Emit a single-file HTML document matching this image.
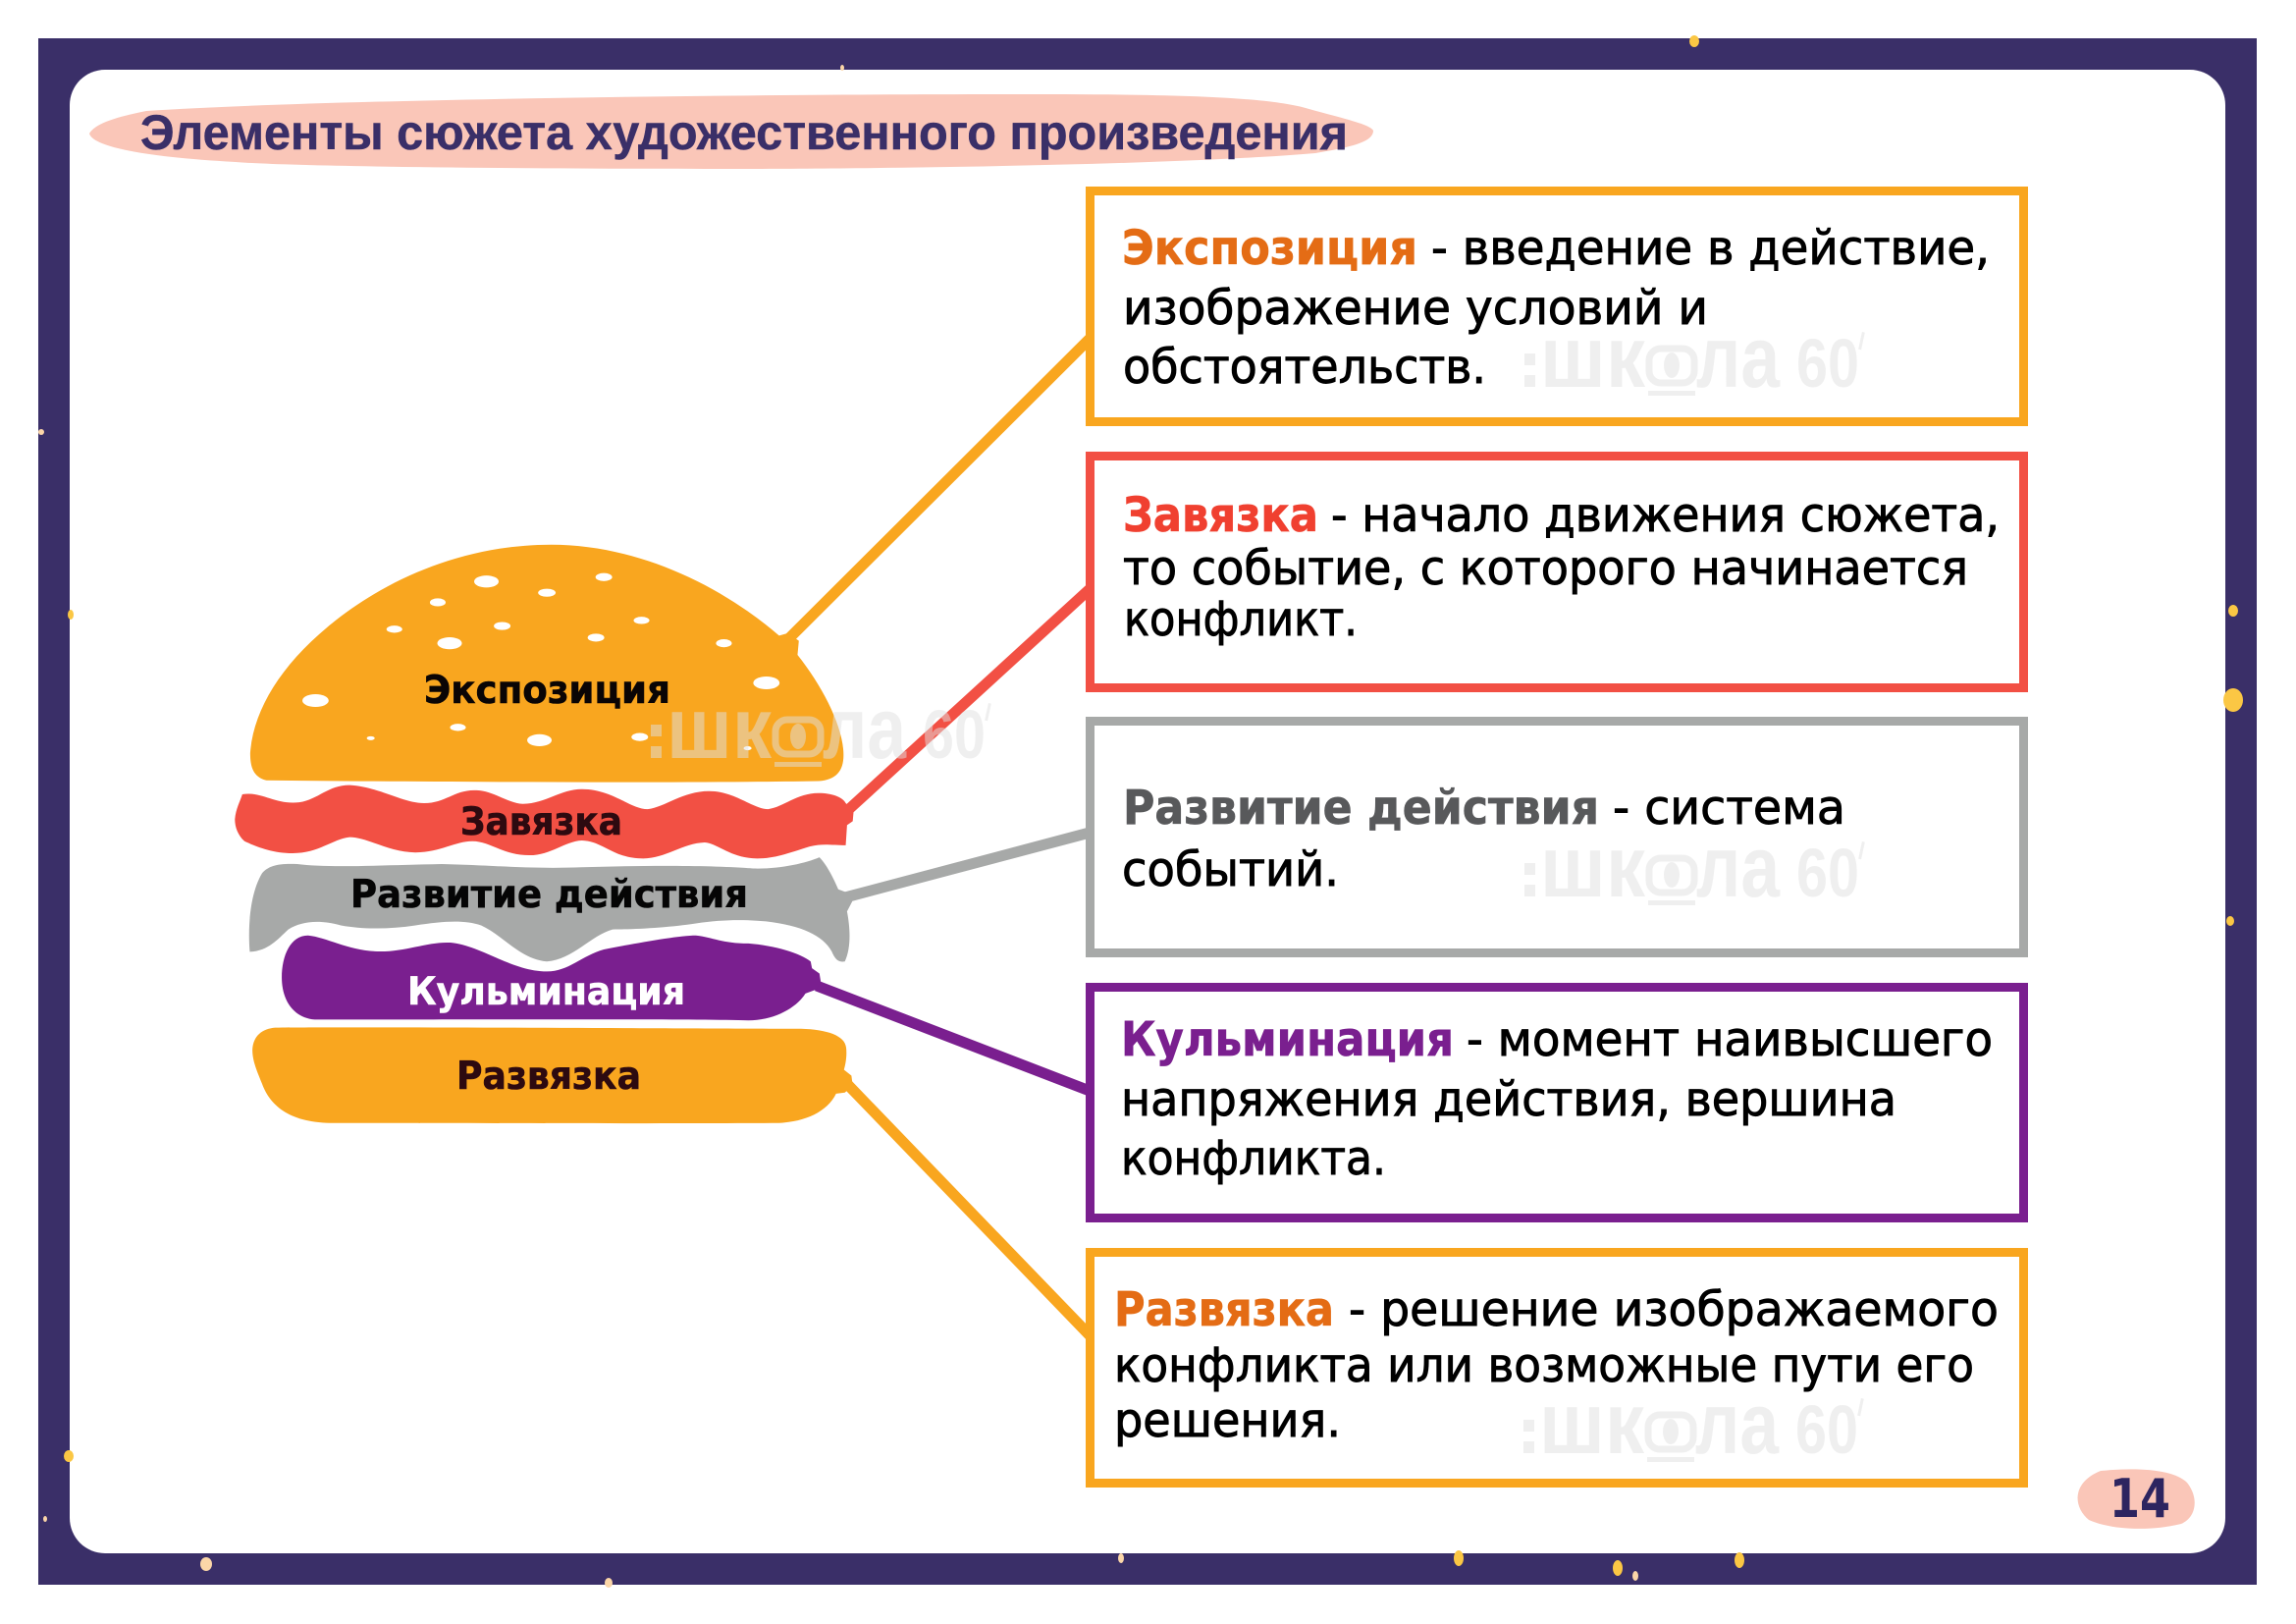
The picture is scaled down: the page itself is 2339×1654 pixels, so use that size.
<!DOCTYPE html>
<html lang="ru">
<head>
<meta charset="utf-8">
<title>Элементы сюжета художественного произведения</title>
<style>
html,body{margin:0;padding:0;background:#fff;width:2339px;height:1654px;overflow:hidden}
svg{display:block}
.t{font-family:"DejaVu Sans","Liberation Sans",sans-serif;font-size:48px;fill:#000;stroke:#000;stroke-width:.9}
.h{font-family:"DejaVu Sans","Liberation Sans",sans-serif;font-size:48px;font-weight:bold;stroke-width:.7}
.b{font-family:"DejaVu Sans","Liberation Sans",sans-serif;font-size:39px;font-weight:bold;stroke-width:.6}
.w{fill:#e1e1e1;opacity:.5}
.w text{font-family:"Liberation Sans",sans-serif;font-weight:bold}
</style>
</head>
<body>
<svg xmlns="http://www.w3.org/2000/svg" width="2339" height="1654" viewBox="0 0 2339 1654">
<rect width="2339" height="1654" fill="#fff"/>
<rect x="39" y="39" width="2260" height="1575" fill="#3a2f68"/>
<rect x="71" y="71" width="2196" height="1511" rx="36" ry="36" fill="#fff"/>
<g fill="#fbc744">
<ellipse cx="1726" cy="42" rx="5" ry="6"/><ellipse cx="2275" cy="622" rx="5" ry="6"/><ellipse cx="2275" cy="713" rx="10" ry="12"/><ellipse cx="2272" cy="938" rx="4" ry="5"/><ellipse cx="70" cy="1483" rx="5" ry="6"/><ellipse cx="1486" cy="1587" rx="5" ry="8"/><ellipse cx="1648" cy="1597" rx="5" ry="8"/><ellipse cx="1772" cy="1589" rx="5" ry="8"/><ellipse cx="72" cy="626" rx="3" ry="5"/>
</g>
<g fill="#fbd6a8">
<ellipse cx="42" cy="440" rx="3" ry="3"/><ellipse cx="46" cy="1547" rx="2" ry="3"/><ellipse cx="210" cy="1593" rx="6" ry="7"/><ellipse cx="620" cy="1612" rx="4" ry="5"/><ellipse cx="1142" cy="1587" rx="3" ry="5"/><ellipse cx="1666" cy="1605" rx="3" ry="5"/><ellipse cx="858" cy="69" rx="2" ry="3"/>
</g>

<path d="M91 136 C98 124 125 118 149 113 C350 100 800 96 1024 96 C1150 96 1280 96 1330 110 C1365 120 1395 126 1399 133 C1399 145 1375 150 1340 156 C1200 168 900 172 745 172 C550 172 300 170 240 165 C150 160 95 150 91 136 Z" fill="#fac6b8"/>
<text x="143" y="152" font-family="'Liberation Sans',sans-serif" font-size="50" font-weight="bold" fill="#3a2f68" stroke="#3a2f68" stroke-width=".5" textLength="1230" lengthAdjust="spacingAndGlyphs">Элементы сюжета художественного произведения</text>

<g fill="none" stroke-width="11">
<line x1="803" y1="651" x2="1110" y2="345" stroke="#f9a61f"/>
<line x1="865" y1="824" x2="1110" y2="600" stroke="#f25044"/>
<line x1="861" y1="914" x2="1110" y2="848" stroke="#a7a9a8"/>
<line x1="832" y1="1004" x2="1110" y2="1111" stroke="#7a1f8f"/>
<line x1="863" y1="1104" x2="1110" y2="1360" stroke="#f9a61f"/>
</g>

<g transform="translate(200 520) scale(0.4464 0.4082)">
<path fill="#f9a61f" d="M160 673 C130 665 123 640 123 605 C130 500 190 390 300 290 C420 180 600 85 810 85 C1000 85 1190 180 1330 312 L1350 306 L1375 325 L1372 360 C1430 440 1477 540 1477 610 C1477 650 1460 672 1420 675 C1100 680 500 677 160 673 Z"/>
<g fill="#fff">
<ellipse cx="662" cy="177" rx="28" ry="15"/><ellipse cx="930" cy="166" rx="19" ry="10"/><ellipse cx="800" cy="205" rx="20" ry="10"/><ellipse cx="551" cy="229" rx="18" ry="10"/><ellipse cx="452" cy="296" rx="18" ry="9"/><ellipse cx="698" cy="288" rx="19" ry="10"/><ellipse cx="1016" cy="274" rx="18" ry="9"/><ellipse cx="912" cy="317" rx="19" ry="10"/><ellipse cx="578" cy="331" rx="28" ry="15"/><ellipse cx="1204" cy="331" rx="18" ry="10"/><ellipse cx="1301" cy="430" rx="30" ry="16"/><ellipse cx="272" cy="474" rx="30" ry="16"/><ellipse cx="597" cy="541" rx="18" ry="9"/><ellipse cx="398" cy="568" rx="9" ry="5"/><ellipse cx="783" cy="573" rx="28" ry="15"/><ellipse cx="1012" cy="565" rx="19" ry="10"/><ellipse cx="1258" cy="593" rx="9" ry="5"/>
</g>
<path fill="#f25044" d="M105 708 C150 700 180 735 235 728 C280 720 300 685 350 685 C420 690 470 730 520 730 C570 730 590 695 640 698 C680 700 710 730 745 732 C800 730 830 695 880 695 C950 695 990 745 1030 745 C1070 740 1110 700 1170 700 C1230 700 1270 745 1305 745 C1340 740 1370 705 1420 705 C1450 705 1475 715 1482 730 L1500 750 L1498 775 L1485 785 L1482 835 C1450 835 1430 830 1400 838 C1350 855 1320 868 1280 868 C1220 868 1190 830 1160 828 C1110 830 1070 868 1020 868 C950 868 930 825 880 823 C840 825 810 860 760 860 C700 860 670 825 630 825 C590 825 560 852 500 853 C440 853 390 815 350 815 C310 820 280 855 220 855 C170 855 130 835 110 825 C95 810 88 790 88 770 C90 745 100 725 105 708 Z"/>
<path fill="#a7a9a8" d="M150 905 C165 885 190 880 230 882 C300 892 420 885 560 882 C680 885 760 895 880 890 C1020 885 1180 885 1270 893 C1330 895 1390 880 1422 865 C1440 885 1455 920 1465 945 L1490 955 L1497 975 L1485 1000 C1492 1040 1495 1090 1480 1125 C1465 1128 1458 1120 1450 1100 C1430 1060 1380 1035 1300 1025 C1250 1020 1200 1020 1140 1030 C1080 1040 1000 1045 950 1045 C900 1060 860 1120 800 1125 C740 1120 700 1060 650 1035 C610 1020 560 1025 500 1035 C440 1045 380 1045 330 1035 C280 1020 240 1025 210 1045 C185 1070 165 1098 122 1101 C118 1050 120 960 150 905 Z"/>
<path fill="#7a1f8f" d="M255 1060 C300 1065 350 1100 420 1100 C480 1100 530 1075 580 1078 C650 1085 720 1150 800 1150 C850 1150 880 1110 930 1095 C1000 1080 1100 1060 1140 1060 C1180 1065 1200 1080 1260 1080 C1320 1085 1380 1105 1402 1125 L1405 1142 L1422 1155 L1425 1175 L1415 1195 L1390 1205 C1370 1240 1320 1272 1260 1272 C1100 1268 500 1270 270 1270 C220 1265 195 1220 195 1165 C195 1110 215 1060 255 1060 Z"/>
<path fill="#f9a61f" d="M180 1290 C400 1288 1100 1292 1380 1293 C1440 1295 1480 1310 1483 1340 C1485 1360 1482 1380 1478 1395 L1495 1410 L1498 1435 L1480 1452 L1460 1455 C1440 1500 1390 1525 1330 1528 C1100 1530 600 1528 320 1528 C220 1530 170 1490 150 1430 C135 1390 128 1370 128 1345 C130 1310 150 1293 180 1290 Z"/>
</g>

<g class="w" transform="translate(663 772)">
<rect x="0" y="-34" width="11" height="12"/><rect x="0" y="-12" width="11" height="12"/>
<text x="16" y="0" font-size="88" textLength="107" lengthAdjust="spacingAndGlyphs">шк</text>
<rect x="127" y="-39" width="46" height="35" rx="12" fill="none" stroke="#e1e1e1" stroke-width="7"/><ellipse cx="150" cy="-22" rx="8" ry="13"/><rect x="126" y="4" width="48" height="5"/>
<text x="175" y="0" font-size="88" textLength="85" lengthAdjust="spacingAndGlyphs">ла</text>
<text x="277" y="0" font-size="70" textLength="64" lengthAdjust="spacingAndGlyphs">60</text>
<rect x="342" y="-56" width="3" height="18" transform="rotate(12 343 -47)"/>
</g>

<text class="b" x="432" y="716" fill="#0a0505" stroke="#0a0505" textLength="251" lengthAdjust="spacingAndGlyphs">Экспозиция</text>
<text class="b" x="469" y="850" fill="#2d0a10" stroke="#2d0a10" textLength="165" lengthAdjust="spacingAndGlyphs">Завязка</text>
<text class="b" x="357" y="924" fill="#050505" stroke="#050505" textLength="405" lengthAdjust="spacingAndGlyphs">Развитие действия</text>
<text class="b" x="415" y="1023" fill="#fff" stroke="#fff" textLength="283" lengthAdjust="spacingAndGlyphs">Кульминация</text>
<text class="b" x="465" y="1109" fill="#2d0a10" stroke="#2d0a10" textLength="188" lengthAdjust="spacingAndGlyphs">Развязка</text>

<g fill="#fff" stroke-width="9">
<rect x="1110.5" y="194.5" width="951" height="235" stroke="#f9a61f"/>
<rect x="1110.5" y="464.5" width="951" height="236" stroke="#f25044"/>
<rect x="1110.5" y="734.5" width="951" height="236" stroke="#a7a9a8"/>
<rect x="1110.5" y="1005.5" width="951" height="235" stroke="#7a1f8f"/>
<rect x="1110.5" y="1275.5" width="951" height="235" stroke="#f9a61f"/>
</g>

<g class="w" transform="translate(1553 394)">
<rect x="0" y="-34" width="11" height="12"/><rect x="0" y="-12" width="11" height="12"/>
<text x="16" y="0" font-size="88" textLength="107" lengthAdjust="spacingAndGlyphs">шк</text>
<rect x="127" y="-39" width="46" height="35" rx="12" fill="none" stroke="#e1e1e1" stroke-width="7"/><ellipse cx="150" cy="-22" rx="8" ry="13"/><rect x="126" y="4" width="48" height="5"/>
<text x="175" y="0" font-size="88" textLength="85" lengthAdjust="spacingAndGlyphs">ла</text>
<text x="277" y="0" font-size="70" textLength="64" lengthAdjust="spacingAndGlyphs">60</text>
<rect x="342" y="-56" width="3" height="18" transform="rotate(12 343 -47)"/>
</g>
<g class="w" transform="translate(1553 913)">
<rect x="0" y="-34" width="11" height="12"/><rect x="0" y="-12" width="11" height="12"/>
<text x="16" y="0" font-size="88" textLength="107" lengthAdjust="spacingAndGlyphs">шк</text>
<rect x="127" y="-39" width="46" height="35" rx="12" fill="none" stroke="#e1e1e1" stroke-width="7"/><ellipse cx="150" cy="-22" rx="8" ry="13"/><rect x="126" y="4" width="48" height="5"/>
<text x="175" y="0" font-size="88" textLength="85" lengthAdjust="spacingAndGlyphs">ла</text>
<text x="277" y="0" font-size="70" textLength="64" lengthAdjust="spacingAndGlyphs">60</text>
<rect x="342" y="-56" width="3" height="18" transform="rotate(12 343 -47)"/>
</g>
<g class="w" transform="translate(1552 1480)">
<rect x="0" y="-34" width="11" height="12"/><rect x="0" y="-12" width="11" height="12"/>
<text x="16" y="0" font-size="88" textLength="107" lengthAdjust="spacingAndGlyphs">шк</text>
<rect x="127" y="-39" width="46" height="35" rx="12" fill="none" stroke="#e1e1e1" stroke-width="7"/><ellipse cx="150" cy="-22" rx="8" ry="13"/><rect x="126" y="4" width="48" height="5"/>
<text x="175" y="0" font-size="88" textLength="85" lengthAdjust="spacingAndGlyphs">ла</text>
<text x="277" y="0" font-size="70" textLength="64" lengthAdjust="spacingAndGlyphs">60</text>
<rect x="342" y="-56" width="3" height="18" transform="rotate(12 343 -47)"/>
</g>

<text class="h" x="1143" y="269" fill="#e46c15" stroke="#e46c15" textLength="301" lengthAdjust="spacingAndGlyphs">Экспозиция</text>
<text class="t" x="1458" y="269" textLength="569" lengthAdjust="spacingAndGlyphs">- введение в действие,</text>
<text class="t" x="1144" y="330" textLength="596" lengthAdjust="spacingAndGlyphs">изображение условий и</text>
<text class="t" x="1144" y="390" textLength="370" lengthAdjust="spacingAndGlyphs">обстоятельств.</text>

<text class="h" x="1144" y="541" fill="#f04030" stroke="#f04030" textLength="199" lengthAdjust="spacingAndGlyphs">Завязка</text>
<text class="t" x="1356" y="541" textLength="681" lengthAdjust="spacingAndGlyphs">- начало движения сюжета,</text>
<text class="t" x="1144" y="595" textLength="861" lengthAdjust="spacingAndGlyphs">то событие, с которого начинается</text>
<text class="t" x="1145" y="647" textLength="238" lengthAdjust="spacingAndGlyphs">конфликт.</text>

<text class="h" x="1144" y="839" fill="#58595b" stroke="#58595b" textLength="485" lengthAdjust="spacingAndGlyphs">Развитие действия</text>
<text class="t" x="1643" y="839" textLength="237" lengthAdjust="spacingAndGlyphs">- система</text>
<text class="t" x="1143" y="902" textLength="221" lengthAdjust="spacingAndGlyphs">событий.</text>

<text class="h" x="1142" y="1075" fill="#7a1f8f" stroke="#7a1f8f" textLength="339" lengthAdjust="spacingAndGlyphs">Кульминация</text>
<text class="t" x="1494" y="1075" textLength="536" lengthAdjust="spacingAndGlyphs">- момент наивысшего</text>
<text class="t" x="1142" y="1136" textLength="790" lengthAdjust="spacingAndGlyphs">напряжения действия, вершина</text>
<text class="t" x="1142" y="1196" textLength="270" lengthAdjust="spacingAndGlyphs">конфликта.</text>

<text class="h" x="1135" y="1350" fill="#e46c15" stroke="#e46c15" textLength="224" lengthAdjust="spacingAndGlyphs">Развязка</text>
<text class="t" x="1374" y="1350" textLength="662" lengthAdjust="spacingAndGlyphs">- решение изображаемого</text>
<text class="t" x="1135" y="1407" textLength="876" lengthAdjust="spacingAndGlyphs">конфликта или возможные пути его</text>
<text class="t" x="1135" y="1463" textLength="231" lengthAdjust="spacingAndGlyphs">решения.</text>

<path d="M2140 1498 C2180 1494 2215 1497 2228 1510 C2240 1525 2238 1545 2222 1552 C2190 1560 2150 1558 2128 1548 C2112 1535 2110 1510 2140 1498 Z" fill="#fac6b8"/>
<text x="2149" y="1545" font-family="'DejaVu Sans',sans-serif" font-size="54" font-weight="bold" fill="#2d2560" textLength="62" lengthAdjust="spacingAndGlyphs">14</text>
</svg>
</body>
</html>
